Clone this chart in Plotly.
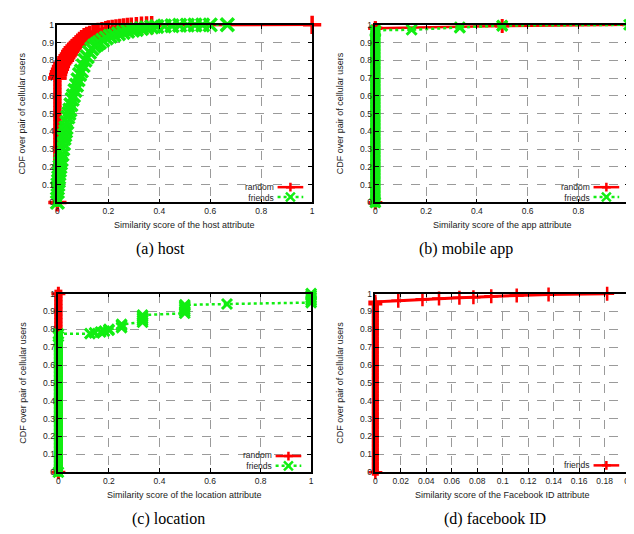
import plotly.graph_objects as go

# ---------------- data ----------------
# CDF levels of the dense marker column drawn at similarity score 0
zero_column = [0.0, 0.02, 0.04, 0.06, 0.08, 0.1, 0.12, 0.14, 0.16, 0.18, 0.2, 0.22, 0.24, 0.26, 0.28,
               0.3, 0.32, 0.34, 0.36, 0.38, 0.4, 0.42, 0.44, 0.46, 0.48, 0.5, 0.52, 0.54, 0.56, 0.58,
               0.6, 0.62, 0.64, 0.66, 0.68, 0.7, 0.72, 0.74, 0.76, 0.78, 0.8, 0.82, 0.84, 0.86, 0.88,
               0.9, 0.92, 0.94, 0.96, 0.98, 1.0]

# (a) host attribute
host_random_zero_top = 0.7
host_random = [(0, 0.7), (0.003, 0.72), (0.006, 0.735), (0.01, 0.75), (0.014, 0.765), (0.019, 0.78),
               (0.024, 0.79), (0.03, 0.8), (0.035, 0.815), (0.04, 0.825), (0.045, 0.835), (0.05, 0.85),
               (0.055, 0.86), (0.06, 0.87), (0.067, 0.88), (0.073, 0.89), (0.08, 0.9), (0.087, 0.91),
               (0.095, 0.92), (0.105, 0.93), (0.115, 0.937), (0.127, 0.944), (0.14, 0.95), (0.15, 0.955),
               (0.16, 0.96), (0.175, 0.965), (0.19, 0.97), (0.2, 0.974), (0.215, 0.977), (0.23, 0.98),
               (0.245, 0.983), (0.26, 0.986), (0.275, 0.988), (0.29, 0.99), (0.31, 0.993), (0.33, 0.995),
               (0.35, 0.997), (0.37, 0.998), (1.0, 1.0)]
host_friends_zero_top = 0.08
host_friends = [(0.002, 0.1), (0.004, 0.12), (0.005, 0.14),
                (0.006, 0.16), (0.008, 0.18), (0.01, 0.2), (0.012, 0.22), (0.015, 0.24), (0.018, 0.27),
                (0.021, 0.3), (0.024, 0.33), (0.026, 0.36), (0.029, 0.38), (0.032, 0.4), (0.034, 0.42),
                (0.037, 0.45), (0.041, 0.48), (0.045, 0.5), (0.049, 0.52), (0.053, 0.55), (0.058, 0.58),
                (0.063, 0.6), (0.069, 0.63), (0.075, 0.66), (0.081, 0.69), (0.087, 0.72), (0.094, 0.74),
                (0.101, 0.77), (0.108, 0.8), (0.117, 0.82), (0.126, 0.845), (0.135, 0.865), (0.145, 0.88),
                (0.155, 0.89), (0.165, 0.9), (0.178, 0.913), (0.192, 0.925), (0.207, 0.935), (0.222, 0.943),
                (0.24, 0.95), (0.258, 0.957), (0.276, 0.963), (0.295, 0.969), (0.31, 0.974), (0.33, 0.979),
                (0.35, 0.983), (0.37, 0.987), (0.39, 0.99), (0.42, 0.993), (0.45, 0.995), (0.48, 0.997),
                (0.51, 0.998), (0.54, 0.9985), (0.57, 0.999), (0.6, 0.9995), (0.667, 1.0)]

# (b) mobile app attribute
app_random_zero_top = 0.98
app_random = [(0, 0.981), (0.5, 0.993), (1.0, 1.0)]
app_friends_zero_top = 0.96
app_friends = [(0, 0.969), (0.143, 0.972), (0.333, 0.983), (0.333, 0.986),
               (0.5, 0.994), (0.5, 0.996), (1.0, 1.0)]

# (c) location attribute
loc_random_zero_top = 1.0
loc_random = []
loc_friends_zero_top = 0.76
loc_friends = [(0, 0.775), (0.125, 0.776), (0.143, 0.78), (0.167, 0.785), (0.182, 0.79), (0.2, 0.795),
               (0.2, 0.8), (0.25, 0.81), (0.25, 0.82), (0.25, 0.828), (0.333, 0.84), (0.333, 0.85),
               (0.333, 0.86), (0.333, 0.87), (0.333, 0.88), (0.5, 0.89), (0.5, 0.9), (0.5, 0.91),
               (0.5, 0.92), (0.5, 0.93), (0.5, 0.937), (0.667, 0.942), (1.0, 0.95), (1.0, 0.96),
               (1.0, 0.97), (1.0, 0.98), (1.0, 0.99), (1.0, 1.0)]

# (d) Facebook ID attribute
fb_friends_zero_top = 0.94
fb_friends = [(0, 0.954), (0.018, 0.96), (0.037, 0.968), (0.05, 0.973), (0.066, 0.977),
              (0.077, 0.98), (0.091, 0.985), (0.111, 0.99), (0.136, 0.995), (0.182, 1.0)]

y_ticks = [0, 0.1, 0.2, 0.3, 0.4, 0.5, 0.6, 0.7, 0.8, 0.9, 1]
y_ticktext = ["0", "0.1", "0.2", "0.3", "0.4", "0.5", "0.6", "0.7", "0.8", "0.9", "1"]
x_ticks = [0, 0.2, 0.4, 0.6, 0.8, 1]
x_ticktext = ["0", "0.2", "0.4", "0.6", "0.8", "1"]
fb_x_ticks = [0, 0.02, 0.04, 0.06, 0.08, 0.1, 0.12, 0.14, 0.16, 0.18, 0.2]
fb_x_ticktext = ["0", "0.02", "0.04", "0.06", "0.08", "0.1", "0.12", "0.14", "0.16", "0.18", "0.2"]

y_title = "CDF over pair of cellular users"
x_titles = ["Similarity score of the host attribute", "Similarity score of the app attribute",
            "Similarity score of the location attribute", "Similarity score of the Facebook ID attribute"]
captions = ["(a) host", "(b) mobile app", "(c) location", "(d) facebook ID"]

# ---------------- layout constants ----------------
W, H = 634, 534
RED = "#ff0000"
GREEN = "#11ee11"
SANS = "Liberation Sans, Arial, sans-serif"
SERIF = "Liberation Serif, Times New Roman, serif"
TXT = "#222222"

def fx(p):
    return p / W

def fy(p):
    return 1 - p / H

# pixel boxes of the four plot areas: (left, right, top, bottom)
boxes = [(48, 306, 12, 193), (370, 627, 12, 193), (49, 305, 286, 468), (370, 628, 286, 468)]


def random_style(msize=10, mw=3):
    return dict(mode="lines+markers", line=dict(color=RED, width=2.5),
                marker=dict(symbol="cross-thin", size=msize, color=RED, line=dict(color=RED, width=mw)),
                cliponaxis=False, showlegend=False)


def friends_style(msize=10, mw=3):
    return dict(mode="lines+markers", line=dict(color=GREEN, width=2.5, dash="dot"),
                marker=dict(symbol="x-thin", size=msize, color=GREEN, line=dict(color=GREEN, width=mw)),
                cliponaxis=False, showlegend=False)


fb_style = dict(mode="lines+markers", line=dict(color=RED, width=3),
                marker=dict(symbol="cross-thin", size=10, color=RED, line=dict(color=RED, width=2.5)),
                cliponaxis=False, showlegend=False)

fig = go.Figure()
series = [
    (1, host_random_zero_top, host_random, random_style(13, 3.5), RED, 8),
    (1, host_friends_zero_top, host_friends, friends_style(13, 3.5), GREEN, 9),
    (2, app_random_zero_top, app_random, random_style(), RED, 8),
    (2, app_friends_zero_top, app_friends, friends_style(), GREEN, 10),
    (3, loc_random_zero_top, loc_random, random_style(), RED, 8),
    (3, loc_friends_zero_top, loc_friends, friends_style(), GREEN, 9),
    (4, fb_friends_zero_top, fb_friends, fb_style, RED, 7),
]
for k, top, d, st, col, bw in series:
    sfx = "" if k == 1 else str(k)
    zc = [v for v in zero_column if v <= top + 1e-9]
    # the dense column of markers at score 0 renders as a solid band
    fig.add_trace(go.Scatter(x=[0] * len(zc), y=zc, mode="markers",
                             marker=dict(symbol="square", size=bw, color=col, line=dict(width=0)),
                             xaxis="x" + sfx, yaxis="y" + sfx, showlegend=False, cliponaxis=False))
    ends = [zc[0], zc[-1]]
    xs = [0, 0] + [p[0] for p in d]
    ys = ends + [p[1] for p in d]
    fig.add_trace(go.Scatter(x=xs, y=ys, xaxis="x" + sfx, yaxis="y" + sfx, **st))

axis_common = dict(showgrid=True, gridcolor="#9a9a9a", griddash="dash", gridwidth=1,
                   showline=True, linecolor="black", linewidth=1.5, mirror="allticks",
                   ticks="inside", ticklen=4, tickcolor="black", zeroline=False,
                   tickfont=dict(family=SANS, size=8.5, color=TXT), fixedrange=True)

layout = dict(width=W, height=H, margin=dict(l=0, r=0, t=0, b=0),
              paper_bgcolor="white", plot_bgcolor="white", showlegend=False)
annotations = []
shapes = []
for i, (l, r, t, b) in enumerate(boxes):
    k = i + 1
    sfx = "" if k == 1 else str(k)
    if k == 4:
        xt, xtt, xr = fb_x_ticks, fb_x_ticktext, [0, 0.2]
    else:
        xt, xtt, xr = x_ticks, x_ticktext, [0, 1]
    layout["xaxis" + sfx] = dict(domain=[fx(l), fx(r)], range=xr, anchor="y" + sfx,
                                 tickmode="array", tickvals=xt, ticktext=xtt, **axis_common)
    layout["yaxis" + sfx] = dict(domain=[fy(b), fy(t)], range=[0, 1], anchor="x" + sfx,
                                 tickmode="array", tickvals=y_ticks, ticktext=y_ticktext, **axis_common)
    annotations.append(dict(text=x_titles[i], x=fx((l + r) / 2), y=fy(b + 23), xref="paper", yref="paper",
                            xanchor="center", yanchor="middle", showarrow=False, borderpad=0,
                            font=dict(family=SANS, size=9, color=TXT)))
    annotations.append(dict(text=y_title, x=fx(l - 36), y=fy((t + b) / 2), xref="paper", yref="paper",
                            xanchor="center", yanchor="middle", textangle=-90, showarrow=False, borderpad=0,
                            font=dict(family=SANS, size=9, color=TXT)))

# captions
cap_pos = [(152, 240), (462, 240), (161, 516), (491, 516)]
for c, (cx, cy) in zip(captions, cap_pos):
    annotations.append(dict(text=c, x=fx(cx), y=fy(cy), xref="paper", yref="paper", xanchor="center",
                            yanchor="middle", showarrow=False, borderpad=0,
                            font=dict(family=SERIF, size=16, color="black")))


# manual legends: text right-aligned, then sample line with marker
def legend_block(labels, styles, text_end, y_center, step=10):
    n = len(labels)
    annotations.append(dict(text="<br>".join(labels), x=fx(text_end), y=fy(y_center), xref="paper",
                            yref="paper", xanchor="right", yanchor="middle", align="right",
                            showarrow=False, borderpad=0,
                            font=dict(family=SANS, size=8.5, color=TXT)))
    for j, (color, dash, sym) in enumerate(styles):
        yy = y_center + (j - (n - 1) / 2) * step
        x0, x1 = text_end + 3, text_end + 29
        shapes.append(dict(type="line", xref="paper", yref="paper", x0=fx(x0), x1=fx(x1),
                           y0=fy(yy), y1=fy(yy), line=dict(color=color, width=2.5, dash=dash)))
        xm = (x0 + x1) / 2
        s = 4.5
        if sym == "+":
            path = (f"M {fx(xm - s)},{fy(yy)} L {fx(xm + s)},{fy(yy)} "
                    f"M {fx(xm)},{fy(yy - s)} L {fx(xm)},{fy(yy + s)}")
        else:
            path = (f"M {fx(xm - s)},{fy(yy - s)} L {fx(xm + s)},{fy(yy + s)} "
                    f"M {fx(xm - s)},{fy(yy + s)} L {fx(xm + s)},{fy(yy - s)}")
        shapes.append(dict(type="path", xref="paper", yref="paper", path=path,
                           line=dict(color=color, width=2.5)))


rf = [(RED, "solid", "+"), (GREEN, "dot", "x")]
legend_block(["random", "friends"], rf, 268, 182.5)
legend_block(["random", "friends"], rf, 588, 182.5)
legend_block(["random", "friends"], rf, 266, 456.5)
legend_block(["friends"], [(RED, "solid", "+")], 588, 461)

layout["annotations"] = annotations
layout["shapes"] = shapes
fig.update_layout(**layout)
fig.write_html("out.html")
